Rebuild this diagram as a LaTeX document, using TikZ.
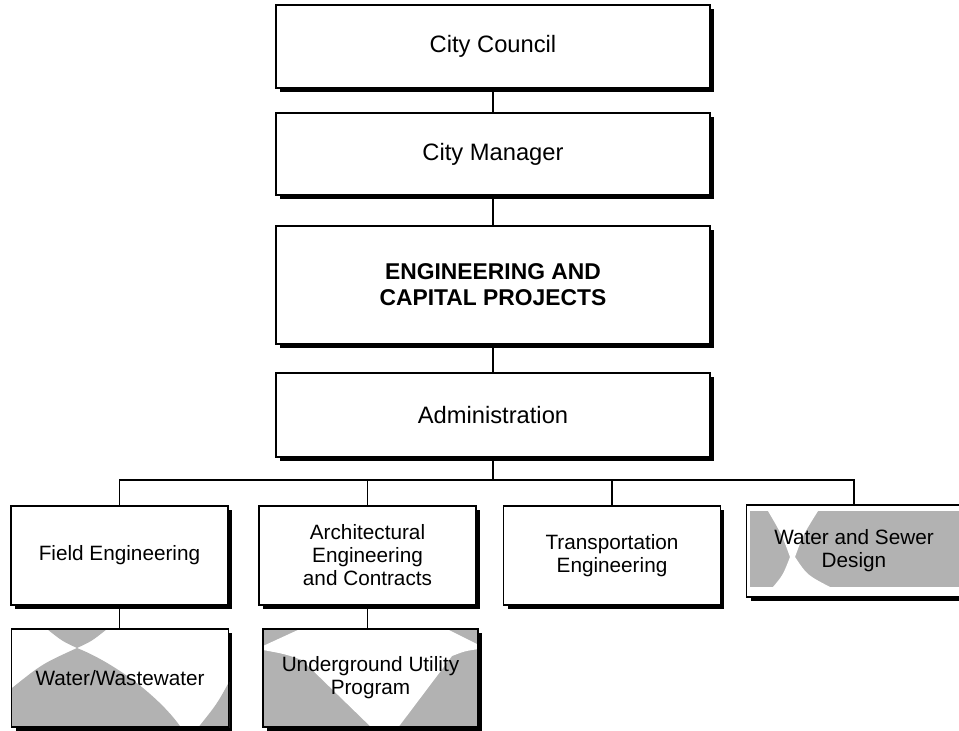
\documentclass[tikz,border=0pt]{standalone}
\usepackage{fontspec}
\setmainfont{Liberation Sans}
\usetikzlibrary{shadows}

\begin{document}
\begin{tikzpicture}[x=0.02cm,y=-0.02cm,
    unit/.style={draw=black, line width=0.8pt, fill=white, align=center,
        drop shadow={fill=black, opacity=1, shadow xshift=0.08cm, shadow yshift=-0.08cm}},
    topunit/.style={unit, minimum width=8.68cm, font=\fontsize{13.5}{15.5}\selectfont},
    subunit/.style={unit, minimum width=4.34cm, minimum height=1.98cm, font=\fontsize{11.8}{13.1}\selectfont},
    subframe/.style={draw=black, line width=0.8pt, align=center, font=\fontsize{11.8}{13.1}\selectfont},
    link/.style={line width=1pt},
    shade/.style={fill=gray!60}
]
\useasboundingbox (0,0) rectangle (959,730);

\node[topunit, minimum height=1.66cm] (council) at (493,46.5) {City Council};
\node[topunit, minimum height=1.64cm] (manager) at (493,154) {City Manager};
\node[topunit, minimum height=2.36cm, font=\fontsize{13}{14.8}\selectfont\bfseries] (eng) at (493,285) {ENGINEERING AND\\CAPITAL PROJECTS};
\node[topunit, minimum height=1.68cm] (admin) at (493,415) {Administration};

\node[subunit] (field) at (119.5,555.5) {Field Engineering};
\node[subunit] (arch) at (367.5,555.5) {Architectural\\Engineering\\and Contracts};
\node[subunit] (transp) at (612,555.5) {Transportation\\Engineering};

% shaded units: plate, shading, then frame and text on top
\node[subunit, minimum width=4.3cm, minimum height=1.84cm] (sewer) at (854,551) {};
\begin{scope}
    \clip (sewer.south west) rectangle (sewer.north east);
    \fill[shade] (750,511) rectangle (965,587);
    \fill[white] (768,511) .. controls (782,535) .. (790,557) .. controls (783,575) .. (773,587)
        -- (830,587) .. controls (807,575) .. (795,557) .. controls (803,535) .. (818,511) -- cycle;
\end{scope}
\node[subframe, minimum width=4.3cm, minimum height=1.84cm] (sewer text) at (sewer) {Water and Sewer\\Design};

\node[subunit, minimum height=1.96cm] (water) at (120,678) {};
\begin{scope}
    \clip (water.south west) rectangle (water.north east);
    \fill[shade] (47,629) .. controls (62,641) .. (77,648) .. controls (92,641) .. (107,629) -- cycle;
    \fill[shade] (12,688) .. controls (42,664) .. (77,648) .. controls (117,664) and (162,699) .. (182,729) -- (12,729) -- cycle;
    \fill[shade] (229,682) .. controls (217,704) .. (197,729) -- (229,729) -- cycle;
\end{scope}
\node[subframe, minimum width=4.34cm, minimum height=1.96cm] (water text) at (water) {Water/Wastewater};

\node[subunit, minimum width=4.3cm, minimum height=1.96cm] (under) at (370.5,678) {};
\begin{scope}
    \clip (under.south west) rectangle (under.north east);
    \fill[shade] (under.south west) rectangle (under.north east);
    \fill[white] (300,629) -- (447,629) -- (479,645) -- (479,649) .. controls (465,651) .. (452,656)
        -- (397,729) -- (373,729) -- (302,660) .. controls (285,654) .. (263,650) -- (263,646) -- cycle;
\end{scope}
\node[subframe, minimum width=4.3cm, minimum height=1.96cm] (under text) at (under) {Underground Utility\\Program};

\coordinate (bus) at (493,480);

\draw[link] (council.south) -- (manager.north);
\draw[link] (manager.south) -- (eng.north);
\draw[link] (eng.south) -- (admin.north);
\draw[link] (admin.south) -- (bus);
\draw[link] (field.north) |- (bus) -| (sewer.north);
\draw[link] (arch.north) -- (arch.north |- bus);
\draw[link] (transp.north) -- (transp.north |- bus);
\draw[link] (field.south) -- (field.south |- water.north);
\draw[link] (arch.south) -- (arch.south |- under.north);

\end{tikzpicture}
\end{document}
